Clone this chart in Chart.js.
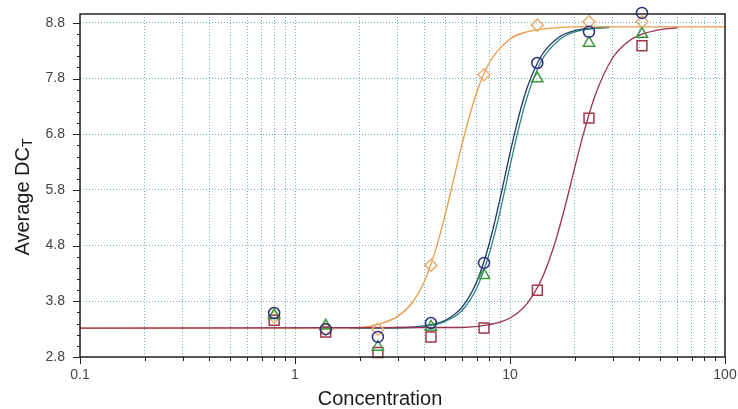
<!DOCTYPE html>
<html>
<head>
<meta charset="utf-8">
<script src="https://cdn.jsdelivr.net/npm/chart.js@4/dist/chart.umd.min.js"></script>
<style>
  html, body { margin: 0; padding: 0; background: #fff; }
  #wrap { width: 738px; height: 409px; }
</style>
</head>
<body>
<div id="wrap"><canvas id="dctChart"></canvas></div>
<script>
// measured points
const concentrations = [0.8, 1.39, 2.43, 4.29, 7.57, 13.4, 23.3, 41.1];
const circleVals   = [3.59, 3.30, 3.16, 3.41, 4.49, 8.08, 8.64, 8.98];
const triangleVals = [3.55, 3.36, 2.98, 3.34, 4.27, 7.80, 8.44, 8.60];
const squareVals   = [3.46, 3.25, 2.88, 3.16, 3.32, 4.00, 7.09, 8.39];
const diamondVals  = [3.52, 3.30, 3.30, 4.45, 7.87, 8.76, 8.82, 8.82];

// fitted curves
const orangeX = [0.1, 1, 2, 2.5, 3, 3.5, 4, 4.5, 5, 5.5, 6, 7, 8, 10, 12, 15, 20, 100];
const orangeY = [3.32, 3.32, 3.33, 3.40, 3.53, 3.77, 4.16, 4.71, 5.36, 6.03, 6.64, 7.55, 8.08, 8.51, 8.64, 8.70, 8.73, 8.73];
const blueX = [1.8, 3, 4, 5, 6, 7, 8, 9, 10, 11, 12, 14, 17, 20, 25, 29];
const blueY = [3.32, 3.33, 3.36, 3.46, 3.70, 4.15, 4.83, 5.65, 6.46, 7.13, 7.63, 8.21, 8.55, 8.66, 8.71, 8.72];
const greenX = [1.8, 3, 4, 5, 6, 7, 8, 9, 10, 11, 12, 14, 17, 20, 25, 29];
const greenY = [3.32, 3.32, 3.35, 3.44, 3.64, 4.04, 4.65, 5.42, 6.23, 6.92, 7.46, 8.12, 8.50, 8.64, 8.70, 8.72];
const redX = [0.1, 6, 8, 10, 12, 14, 16, 18, 20, 22, 25, 30, 35, 40, 50, 60];
const redY = [3.32, 3.33, 3.38, 3.50, 3.76, 4.19, 4.79, 5.49, 6.20, 6.82, 7.52, 8.17, 8.45, 8.58, 8.68, 8.71];

const yTicks = [2.8, 3.8, 4.8, 5.8, 6.8, 7.8, 8.8];
const xTickLabels = [0.1, 1, 10, 100];

const pts = (xs, ys) => xs.map((x, i) => ({ x: x, y: ys[i] }));

const xGridValues = [];
for (let d = 0.1; d < 100; d *= 10) {
    for (let m = 1; m < 10; m++) xGridValues.push(+(d * m).toPrecision(3));
}
xGridValues.push(100);

const FONT = "'Liberation Sans', Arial, sans-serif";

function curve(xs, ys, color) {
    return {
        type: "line",
        data: pts(xs, ys),
        borderColor: color,
        borderWidth: 1.3,
        pointRadius: 0,
        cubicInterpolationMode: "monotone",
        fill: false,
    };
}

function markers(ys, style, color, radius) {
    return {
        type: "scatter",
        data: pts(concentrations, ys),
        pointStyle: style,
        pointRadius: radius,
        pointBorderWidth: 1.5,
        borderColor: color,
        backgroundColor: "rgba(255,255,255,0)",
        clip: false,
    };
}

const framePlugin = {
    id: "frame",
    afterDraw(chart) {
        const ctx = chart.ctx;
        const a = chart.chartArea;
        const xs = chart.scales.x;
        const ys = chart.scales.y;
        ctx.save();
        ctx.strokeStyle = "#222";
        ctx.lineWidth = 1.5;
        ctx.strokeRect(a.left, a.top, a.right - a.left, a.bottom - a.top);

        ctx.lineWidth = 1;
        ctx.beginPath();
        // y ticks, major and minor
        for (let v = 2.8; v <= 8.81; v += 0.2) {
            const y = Math.round(ys.getPixelForValue(v)) + 0.5;
            const major = yTicks.some(t => Math.abs(t - v) < 0.01);
            ctx.moveTo(a.left - (major ? 7 : 3), y);
            ctx.lineTo(a.left, y);
        }
        // x ticks
        xGridValues.forEach(v => {
            const x = Math.round(xs.getPixelForValue(v)) + 0.5;
            const major = xTickLabels.includes(v);
            ctx.moveTo(x, a.bottom);
            ctx.lineTo(x, a.bottom + (major ? 7 : 4));
        });
        ctx.stroke();

        // axis titles
        ctx.fillStyle = "#1a1a1a";
        ctx.font = "20px " + FONT;
        ctx.textAlign = "center";
        ctx.textBaseline = "middle";
        ctx.fillText("Concentration", 380, 399);

        ctx.translate(23, 197);
        ctx.rotate(-Math.PI / 2);
        const main = "Average DC";
        const w1 = ctx.measureText(main).width;
        ctx.font = "14px " + FONT;
        const w2 = ctx.measureText("T").width;
        const start = -(w1 + w2) / 2;
        ctx.textAlign = "left";
        ctx.font = "20px " + FONT;
        ctx.fillText(main, start, 0);
        ctx.font = "14px " + FONT;
        ctx.fillText("T", start + w1, 5);
        ctx.restore();
    },
};

const gridColor = "rgba(70, 160, 180, 0.8)";

new Chart(document.getElementById("dctChart").getContext("2d"), {
    type: "scatter",
    data: {
        datasets: [
            markers(circleVals, "circle", "#2c2c84", 5.5),
            markers(triangleVals, "triangle", "#3a9a3a", 6.5),
            markers(squareVals, "rect", "#a0384a", 7),
            markers(diamondVals, "rectRot", "#e8b070", 6),
            curve(redX, redY, "#9c3050"),
            curve(orangeX, orangeY, "#e89c44"),
            curve(greenX, greenY, "#2a8a7e"),
            curve(blueX, blueY, "#22346a"),
        ],
    },
    options: {
        responsive: true,
        maintainAspectRatio: false,
        animation: false,
        layout: { autoPadding: false, padding: { top: 14, right: 13, left: 0, bottom: 0 } },
        plugins: {
            legend: { display: false },
            tooltip: { enabled: false },
        },
        scales: {
            x: {
                type: "logarithmic",
                min: 0.1,
                max: 100,
                afterBuildTicks: (scale) => {
                    scale.ticks = xGridValues.map(v => ({ value: v }));
                },
                afterFit: (scale) => {
                    scale.height = 52;
                    scale.paddingLeft = 0;
                    scale.paddingRight = 0;
                },
                ticks: {
                    autoSkip: false,
                    maxRotation: 0,
                    padding: 10,
                    color: "#444",
                    font: { family: FONT, size: 14 },
                    callback: (v) => (xTickLabels.includes(v) ? String(v) : ""),
                },
                grid: {
                    color: gridColor,
                    lineWidth: 1,
                    drawTicks: false,
                },
                border: { display: false, dash: [1, 2] },
            },
            y: {
                min: 2.8,
                max: 8.96,
                afterBuildTicks: (scale) => {
                    scale.ticks = yTicks.map(v => ({ value: v }));
                },
                afterFit: (scale) => {
                    scale.width = 80;
                    scale.paddingTop = 0;
                    scale.paddingBottom = 0;
                },
                ticks: {
                    padding: 15,
                    color: "#444",
                    font: { family: FONT, size: 14 },
                    callback: (v) => v.toFixed(1),
                },
                grid: {
                    color: gridColor,
                    lineWidth: 1,
                    drawTicks: false,
                },
                border: { display: false, dash: [1, 2] },
            },
        },
    },
    plugins: [framePlugin],
});
</script>
</body>
</html>
